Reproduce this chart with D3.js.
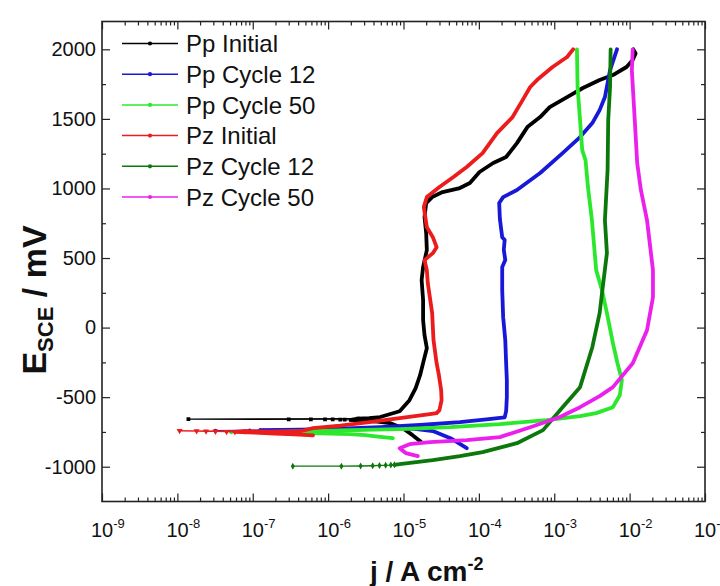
<!DOCTYPE html>
<html>
<head>
<meta charset="utf-8">
<script src="https://cdn.jsdelivr.net/npm/d3@7"></script>
<style>
  body { margin: 0; background: #fff; }
  text { font-family: "Liberation Sans", Arial, sans-serif; fill: #111; }
</style>
</head>
<body>
<div id="chart"></div>
<script>
// Series names and colours (legend order)
const seriesNames = ['Pp Initial', 'Pp Cycle 12', 'Pp Cycle 50', 'Pz Initial', 'Pz Cycle 12', 'Pz Cycle 50'];
const seriesColors = ['#000000', '#1818d8', '#2ce82c', '#ec1c1c', '#0c780c', '#ec20ec'];

// tick values
const xDecades = [1e-9, 1e-8, 1e-7, 1e-6, 1e-5, 1e-4, 1e-3, 1e-2, 1e-1];
const xExponents = ['-9', '-8', '-7', '-6', '-5', '-4', '-3', '-2', '-1'];
const yMajor = [-1000, -500, 0, 500, 1000, 1500, 2000];
const yMinor = [-750, -250, 250, 750, 1250, 1750];

// j in A cm^-2, E in mV(SCE). *J/*E = dense part of the scan, *DipJ/*DipE = sparse points near Ecorr
const ppInitialJ = [1.70e-5, 1.32e-5, 9.8e-6, 6.6e-6, 4.5e-6, 2.8e-6, 2.0e-6,
  2.5e-6, 3.5e-6, 4.9e-6, 8.9e-6, 1.2e-5, 1.45e-5, 1.66e-5, 1.86e-5, 2.04e-5, 1.9e-5,
  1.82e-5, 1.82e-5, 1.74e-5, 1.82e-5, 2.04e-5, 2.0e-5, 1.9e-5, 2.0e-5, 2.4e-5, 3.3e-5,
  5.6e-5, 7.6e-5, 1.02e-4, 1.55e-4, 2.3e-4, 3.2e-4, 4.4e-4, 6.5e-4, 8.7e-4, 1.48e-3,
  2.4e-3, 4.0e-3, 6.0e-3, 9.1e-3, 1.1e-2, 1.2e-2, 1.12e-2];
const ppInitialE = [-820, -773, -723, -686, -675, -668, -664,
  -655, -650, -643, -601, -522, -435, -342, -234, -148, -54,
  54, 197, 341, 435, 557, 679, 794, 895, 938, 974,
  1003, 1039, 1118, 1183, 1226, 1326, 1441, 1513, 1585, 1657,
  1722, 1779, 1815, 1873, 1923, 1970, 2000];
const ppInitialDipJ = [2.0e-6, 1.66e-6, 1.45e-6, 1.15e-6, 9.1e-7, 5.9e-7, 3.0e-7, 1.4e-8, 2.5e-6];
const ppInitialDipE = [-664, -662, -661, -660, -660, -659, -659, -658, -655];

const ppCycle12J = [6.9e-5, 4.2e-5, 2.45e-5, 1.41e-5, 7.8e-6, 3.5e-6, 1.45e-6, 5.8e-7,
  1.26e-7, 4.3e-7, 1.45e-6, 4.9e-6, 1.66e-5, 5.6e-5, 1.26e-4, 2.2e-4, 2.3e-4, 2.35e-4,
  2.35e-4, 2.3e-4, 2.24e-4, 2.1e-4, 2.04e-4, 2.04e-4, 2.24e-4, 2.14e-4, 2.2e-4, 2.04e-4,
  1.9e-4, 1.86e-4, 2.1e-4, 3.2e-4, 6.5e-4, 1.29e-3, 2.2e-3, 3.2e-3, 4.0e-3, 4.7e-3,
  5.5e-3, 6.8e-3];
const ppCycle12E = [-867, -795, -744, -728, -725, -730, -735, -737,
  -737, -733, -726, -716, -700, -680, -660, -645, -600, -500,
  -378, -256, -90, 75, 269, 435, 485, 560, 629, 650,
  780, 895, 938, 989, 1111, 1254, 1369, 1470, 1563, 1657,
  1851, 2000];
const ppCycle12DipJ = [5.8e-7, 4.0e-7, 2.3e-7, 1.4e-7, 9.1e-8, 3.2e-8, 1.26e-7];
const ppCycle12DipE = [-737, -738, -738, -739, -740, -741, -737];

const ppCycle50J = [7.2e-6, 4.9e-6, 3.1e-6, 1.95e-6, 7.8e-7, 3.1e-7,
  1.7e-7, 5.8e-7, 1.95e-6, 8.9e-6, 4.2e-5, 1.9e-4, 7.9e-4, 2.2e-3, 3.6e-3, 6.0e-3,
  7.4e-3, 7.9e-3, 6.9e-3, 6.0e-3, 5.0e-3, 4.3e-3, 3.6e-3, 3.16e-3, 2.8e-3, 2.6e-3,
  2.35e-3, 2.2e-3, 2.04e-3, 2.0e-3];
const ppCycle50E = [-795, -785, -773, -766, -760, -757,
  -750, -744, -737, -730, -716, -694, -665, -636, -615, -572,
  -486, -378, -256, -112, 104, 269, 413, 773, 1010, 1204,
  1276, 1491, 1729, 2000];
const ppCycle50DipJ = [3.1e-7, 2.0e-7, 1.26e-7, 5.2e-8, 1.7e-7];
const ppCycle50DipE = [-757, -755, -754, -752, -750];

const pzInitialJ = [6.3e-7, 3.6e-7, 1.95e-7, 1.07e-7, 5.8e-8,
  7.9e-8, 1.7e-7, 4.3e-7, 6.3e-7, 1.45e-6, 3.5e-6, 8.9e-6, 2.24e-5, 2.75e-5, 3.0e-5,
  3.2e-5, 3.16e-5, 2.95e-5, 2.75e-5, 2.5e-5, 2.4e-5, 2.1e-5, 2.04e-5, 1.9e-5, 2.45e-5,
  2.75e-5, 2.45e-5, 2.04e-5, 1.86e-5, 2.04e-5, 3.0e-5, 4.6e-5, 6.9e-5, 1.12e-4, 1.74e-4,
  2.8e-4, 3.8e-4, 4.8e-4, 5.9e-4, 9.5e-4, 1.48e-3, 1.78e-3];
const pzInitialE = [-775, -768, -762, -755, -750,
  -745, -748, -745, -723, -705, -680, -650, -622, -615, -593,
  -522, -450, -342, -256, -90, 104, 320, 413, 485, 535,
  578, 650, 722, 866, 938, 1010, 1082, 1154, 1254, 1398,
  1513, 1635, 1729, 1779, 1873, 1945, 2000];
const pzInitialDipJ = [5.8e-8, 4.5e-8, 3.2e-8, 2.4e-8, 1.8e-8, 1.07e-8, 7.9e-8];
const pzInitialDipE = [-750, -748, -746, -745, -744, -742, -745];

const pzCycle12J = [7.6e-6, 8.9e-6, 2.45e-5, 5.6e-5, 1.12e-4, 3.2e-4, 7.1e-4, 1.29e-3,
  2.2e-3, 3.2e-3, 4.0e-3, 4.4e-3, 5.0e-3, 4.7e-3, 5.1e-3, 5.2e-3, 5.5e-3, 5.6e-3];
const pzCycle12E = [-986, -982, -953, -924, -895, -831, -737, -572,
  -428, -141, 104, 291, 536, 773, 1132, 1491, 1729, 2000];
const pzCycle12DipJ = [3.4e-7, 1.5e-6, 2.7e-6, 3.9e-6, 4.8e-6, 5.8e-6, 6.8e-6, 7.6e-6];
const pzCycle12DipE = [-996, -996, -995, -993, -991, -990, -988, -986];

const pzCycle50J = [1.55e-5, 1.07e-5, 8.9e-6, 1.2e-5, 2.24e-5, 6.9e-5, 1.9e-4, 4.8e-4,
  1.17e-3, 2.2e-3, 4.0e-3, 6.0e-3, 1.1e-2, 1.7e-2, 2.04e-2, 2.04e-2, 1.7e-2, 1.41e-2,
  1.26e-2, 1.17e-2, 1.07e-2, 1.1e-2];
const pzCycle50E = [-924, -902, -867, -838, -823, -809, -787, -716,
  -644, -572, -493, -428, -256, -19, 218, 413, 773, 989,
  1183, 1491, 1851, 2000];
const pzCycle50DipJ = [];
const pzCycle50DipE = [];

function drawChart() {
    const width = 720, height = 586;
    const margin = { top: 21.5, right: 15, bottom: 84.5, left: 102 };
    const x0 = margin.left, x1 = width - margin.right;
    const y0 = height - margin.bottom, y1 = margin.top;

    const svg = d3.select('#chart').append('svg')
        .attr('width', width).attr('height', height);

    const x = d3.scaleLog().domain([1e-9, 1e-1]).range([x0, x1]);
    const y = d3.scaleLinear().domain([-1250, 2200]).range([y0, y1]);

    const zip = (js, es) => js.map((j, i) => [j, es[i]]);
    const series = [
        { main: zip(ppInitialJ, ppInitialE), dip: zip(ppInitialDipJ, ppInitialDipE), sym: d3.symbolSquare, size: 14, rot: 0 },
        { main: zip(ppCycle12J, ppCycle12E), dip: zip(ppCycle12DipJ, ppCycle12DipE), sym: d3.symbolCircle, size: 12, rot: 0 },
        { main: zip(ppCycle50J, ppCycle50E), dip: zip(ppCycle50DipJ, ppCycle50DipE), sym: d3.symbolCircle, size: 12, rot: 0 },
        { main: zip(pzInitialJ, pzInitialE), dip: zip(pzInitialDipJ, pzInitialDipE), sym: d3.symbolTriangle, size: 16, rot: 180 },
        { main: zip(pzCycle12J, pzCycle12E), dip: zip(pzCycle12DipJ, pzCycle12DipE), sym: d3.symbolDiamond, size: 14, rot: 0 },
        { main: zip(pzCycle50J, pzCycle50E), dip: zip(pzCycle50DipJ, pzCycle50DipE), sym: d3.symbolCircle, size: 12, rot: 0 },
    ];
    series.forEach((s, i) => { s.name = seriesNames[i]; s.color = seriesColors[i]; });

    svg.append('clipPath').attr('id', 'plotclip')
        .append('rect').attr('x', x0).attr('y', y1).attr('width', x1 - x0).attr('height', y0 - y1);

    const line = d3.line().x(d => x(d[0])).y(d => y(d[1]));

    const plot = svg.append('g').attr('clip-path', 'url(#plotclip)');
    series.forEach(s => {
        const g = plot.append('g');
        if (s.dip.length) {
            g.append('path').attr('d', line(s.dip))
                .attr('fill', 'none').attr('stroke', s.color).attr('stroke-width', 1.3);
            g.selectAll('path.mk').data(s.dip).join('path').attr('class', 'mk')
                .attr('d', d3.symbol().type(s.sym).size(s.size))
                .attr('transform', d => `translate(${x(d[0])},${y(d[1])}) rotate(${s.rot})`)
                .attr('fill', s.color);
        }
        g.append('path').attr('d', line(s.main))
            .attr('fill', 'none').attr('stroke', s.color).attr('stroke-width', 3.8)
            .attr('stroke-linejoin', 'round').attr('stroke-linecap', 'round');
    });

    // axes (ticks point inward)
    const minorX = [];
    xDecades.slice(0, -1).forEach(d => { for (let k = 2; k < 10; k++) minorX.push(d * k); });

    function styleAxis(g) {
        g.select('.domain').remove();
        g.selectAll('line').attr('stroke', '#222').attr('stroke-width', 1.2);
    }
    svg.append('g').attr('transform', `translate(0,${y0})`)
        .call(d3.axisBottom(x).tickValues(xDecades).tickSizeInner(-8).tickSizeOuter(0).tickFormat(''))
        .call(styleAxis);
    svg.append('g').attr('transform', `translate(0,${y0})`)
        .call(d3.axisBottom(x).tickValues(minorX).tickSizeInner(-4).tickSizeOuter(0).tickFormat(''))
        .call(styleAxis);
    svg.append('g').attr('transform', `translate(0,${y1})`)
        .call(d3.axisTop(x).tickValues(xDecades).tickSizeInner(-8).tickSizeOuter(0).tickFormat(''))
        .call(styleAxis);
    svg.append('g').attr('transform', `translate(0,${y1})`)
        .call(d3.axisTop(x).tickValues(minorX).tickSizeInner(-4).tickSizeOuter(0).tickFormat(''))
        .call(styleAxis);

    svg.append('g').attr('transform', `translate(${x0},0)`)
        .call(d3.axisLeft(y).tickValues(yMajor).tickSizeInner(-8).tickSizeOuter(0).tickPadding(6)
            .tickFormat(d => String(d)))
        .call(styleAxis)
        .selectAll('text').attr('font-size', 20).attr('fill', '#111')
        .attr('font-family', '"Liberation Sans", Arial, sans-serif');
    svg.append('g').attr('transform', `translate(${x0},0)`)
        .call(d3.axisLeft(y).tickValues(yMinor).tickSizeInner(-4).tickSizeOuter(0).tickFormat(''))
        .call(styleAxis);
    svg.append('g').attr('transform', `translate(${x1},0)`)
        .call(d3.axisRight(y).tickValues(yMajor).tickSizeInner(-8).tickSizeOuter(0).tickFormat(''))
        .call(styleAxis);
    svg.append('g').attr('transform', `translate(${x1},0)`)
        .call(d3.axisRight(y).tickValues(yMinor).tickSizeInner(-4).tickSizeOuter(0).tickFormat(''))
        .call(styleAxis);

    // frame
    svg.append('rect').attr('x', x0).attr('y', y1).attr('width', x1 - x0).attr('height', y0 - y1)
        .attr('fill', 'none').attr('stroke', '#222').attr('stroke-width', 1.6);

    // x tick labels 10^n
    const xl = svg.append('g');
    xDecades.forEach((d, i) => {
        const t = xl.append('text').attr('x', x(d) - 11).attr('y', y0 + 35).attr('font-size', 20);
        t.append('tspan').text('10');
        t.append('tspan').attr('dy', -9).attr('font-size', 13).text(xExponents[i]);
    });

    // axis titles
    const xt = svg.append('text').attr('x', 370).attr('y', 581)
        .attr('font-size', 28).attr('font-weight', 'bold');
    xt.append('tspan').text('j / A cm');
    xt.append('tspan').attr('dy', -11).attr('font-size', 18).text('-2');

    const yt = svg.append('text').attr('transform', `translate(46,${300}) rotate(-90)`)
        .attr('text-anchor', 'middle').attr('font-size', 34).attr('font-weight', 'bold');
    yt.append('tspan').text('E');
    yt.append('tspan').attr('dy', 7).attr('font-size', 22).text('SCE');
    yt.append('tspan').attr('dy', -7).text(' / mV');

    // legend
    const lg = svg.append('g');
    series.forEach((s, i) => {
        const ly = 43.5 + i * 30.7;
        lg.append('line').attr('x1', 122).attr('x2', 178).attr('y1', ly).attr('y2', ly)
            .attr('stroke', s.color).attr('stroke-width', 1.5);
        lg.append('path').attr('d', d3.symbol().type(d3.symbolCircle).size(14))
            .attr('transform', `translate(150,${ly})`).attr('fill', s.color);
        lg.append('text').attr('x', 186).attr('y', ly + 8.7).attr('font-size', 24).text(s.name);
    });

    svg.node();
}

drawChart();
</script>
</body>
</html>
